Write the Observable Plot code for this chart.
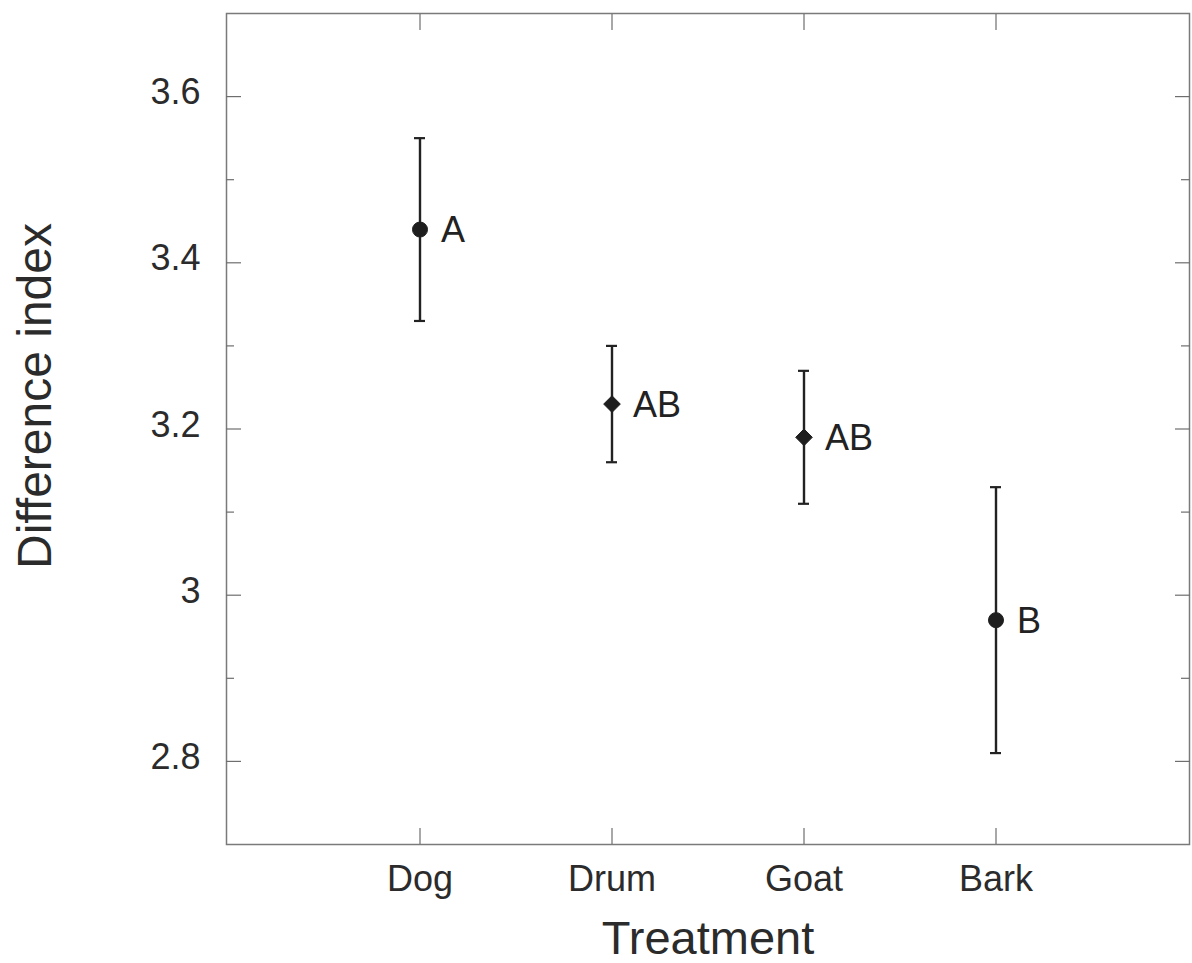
<!DOCTYPE html>
<html><head><meta charset="utf-8">
<script src="https://cdn.jsdelivr.net/npm/d3@7"></script>
<script src="https://cdn.jsdelivr.net/npm/@observablehq/plot@0.6"></script>
<style>html,body{margin:0;padding:0;background:#fff;} #chart{position:absolute;left:0;top:0}</style>
</head><body><div id="chart"></div>
<script>
const treatments = ["Dog", "Drum", "Goat", "Bark"];
const means = [3.44, 3.23, 3.19, 2.97];
const lower = [3.33, 3.16, 3.11, 2.81];
const upper = [3.55, 3.30, 3.27, 3.13];
const groups = ["A", "AB", "AB", "B"];
const yMajorTicks = [2.8, 3.0, 3.2, 3.4, 3.6];
const yMinorTicks = [2.9, 3.1, 3.3, 3.5];
const yTickLabels = ["2.8", "3", "3.2", "3.4", "3.6"];
const xTitle = "Treatment";
const yTitle = "Difference index";

const data = treatments.map((t, i) => ({treatment: t, mean: means[i], lo: lower[i], hi: upper[i], group: groups[i]}));
const fmt = d => yTickLabels[yMajorTicks.indexOf(d)];
const font = "'Liberation Sans', Arial, Helvetica, sans-serif";
const tickColor = "#6e6e6e";
const ink = "#222";

const plot = Plot.plot({
  width: 1192, height: 963,
  marginLeft: 226, marginRight: 3, marginTop: 13, marginBottom: 119,
  style: {fontFamily: font, background: "white", color: "#2b2b2b"},
  x: {type: "band", domain: treatments, paddingInner: 0.943, paddingOuter: 0.9715},
  y: {domain: [2.7, 3.7]},
  symbol: {domain: treatments, range: ["circle", "diamond2", "diamond2", "circle"]},
  marks: [
    Plot.frame({stroke: "#7a7a7a", strokeWidth: 1.5}),
    // inward ticks on all four sides
    Plot.axisY(yMajorTicks, {anchor: "left", tickSize: 15, dx: 15, fill: "none", stroke: tickColor, strokeWidth: 1.2}),
    Plot.axisY(yMinorTicks, {anchor: "left", tickSize: 8, dx: 8, fill: "none", stroke: tickColor, strokeWidth: 1.2}),
    Plot.axisY(yMajorTicks, {anchor: "right", tickSize: 15, dx: -15, fill: "none", stroke: tickColor, strokeWidth: 1.2}),
    Plot.axisY(yMinorTicks, {anchor: "right", tickSize: 9, dx: -9, fill: "none", stroke: tickColor, strokeWidth: 1.2}),
    Plot.axisX({anchor: "bottom", tickSize: 16, dy: -16, fill: "none", stroke: tickColor, strokeWidth: 1.2}),
    Plot.axisX({anchor: "top", tickSize: 16, dy: 16, fill: "none", stroke: tickColor, strokeWidth: 1.2}),
    // tick labels
    Plot.axisY(yMajorTicks, {anchor: "left", tickSize: 0, tickPadding: 26, tickFormat: fmt, fontSize: 36, dy: -4, label: null}),
    Plot.axisX({anchor: "bottom", tickSize: 0, tickPadding: 21, fontSize: 36, label: null}),
    // error bars
    Plot.ruleX(data, {x: "treatment", y1: "lo", y2: "hi", stroke: ink, strokeWidth: 2.4}),
    Plot.tickY(data, {x: "treatment", y: "lo", stroke: ink, strokeWidth: 2.2}),
    Plot.tickY(data, {x: "treatment", y: "hi", stroke: ink, strokeWidth: 2.2}),
    Plot.dot(data, {x: "treatment", y: "mean", r: 7.5, symbol: "treatment", fill: "#1e1e1e", stroke: "#1e1e1e", strokeWidth: 1}),
    Plot.text(data, {x: "treatment", y: "mean", text: "group", textAnchor: "start", dx: 21, dy: 1, fontSize: 36, fill: ink}),
    // titles
    Plot.text([xTitle], {text: d => d, frameAnchor: "bottom", textAnchor: "middle", lineAnchor: "middle", dy: 94, fontSize: 47, fill: "#2b2b2b"}),
    Plot.text([yTitle], {text: d => d, frameAnchor: "left", textAnchor: "middle", lineAnchor: "middle", dx: -191, dy: -33, rotate: -90, fontSize: 48, fill: "#2b2b2b"})
  ]
});
document.getElementById("chart").appendChild(plot);
</script>
</body></html>
